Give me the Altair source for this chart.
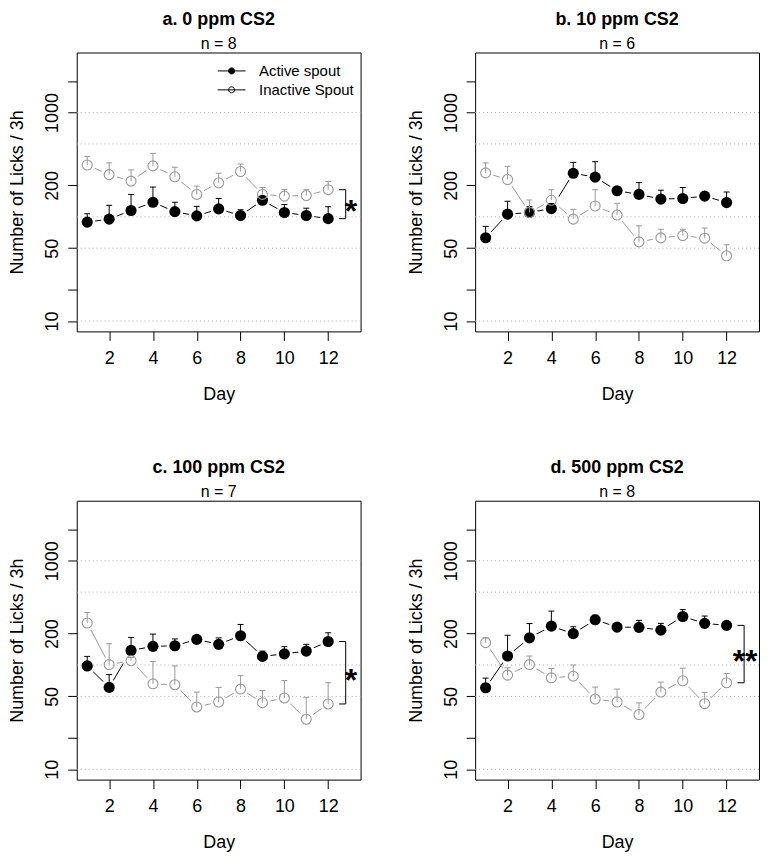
import altair as alt
import pandas as pd
import math

days = list(range(1, 13))
series_names = ["Active spout", "Inactive Spout"]

panel_titles = ["a. 0 ppm CS2", "b. 10 ppm CS2", "c. 100 ppm CS2", "d. 500 ppm CS2"]
panel_n = ["n = 8", "n = 6", "n = 7", "n = 8"]

a_act = [89, 95, 115, 138, 112, 102, 119, 103, 144, 110, 103, 96]
a_act_up = [107, 129, 164, 193, 138, 126, 150, 117, 157, 131, 121, 125]
a_inact = [314, 254, 220, 308, 242, 164, 212, 272, 164, 158, 160, 182]
a_inact_up = [380, 329, 282, 406, 299, 197, 262, 321, 191, 183, 182, 218]

b_act = [63, 106, 110, 120, 262, 240, 178, 164, 148, 150, 158, 137]
b_act_up = [81, 141, 125, 134, 333, 338, 192, 213, 180, 191, 170, 173]
b_inact = [264, 228, 110, 144, 95, 127, 104, 57.5, 62.8, 66, 62.4, 42.3]
b_inact_up = [329, 305, 145, 182, 118, 182, 135, 82, 76, 76, 78, 54]

c_act = [98, 61, 138, 151, 153, 176, 158, 191, 121, 128, 136, 168]
c_act_up = [121, 81, 184, 198, 178, 192, 182, 245, 136, 150, 158, 204]
c_inact = [253, 101, 110, 66, 64.7, 39.6, 44.2, 58.8, 43.5, 48.3, 30.2, 42.3]
c_inact_up = [319, 160, 118, 108, 98, 55, 61, 79, 57, 71, 49, 67.6]

d_act = [60.6, 122, 182, 236, 200, 272, 231, 230, 216, 292, 251, 240]
d_act_up = [74.9, 193, 250, 329, 233, 301, 251, 268, 251, 340, 295, 262]
d_inact = [164, 80, 101, 75.4, 78.2, 47.2, 44.2, 33.5, 55, 70.6, 42.6, 67.6]
d_inact_up = [182, 94, 122, 92.6, 100, 61.5, 58.8, 43.3, 68.6, 93.3, 54.7, 83]

stars = ["*", "", "*", "**"]
star_x = [13.0, 13.0, 13.0, 12.8]

y_tick_values = [10, 20, 50, 200, 1000, 2000]
grid_values = [10, 50, 100, 500, 1000]
x_tick_values = [2, 4, 6, 8, 10, 12]

FONT = "Liberation Sans"
GRAY = "#999999"
LEGEND_PATH = ("M-2.33,0L2.33,0M0.5,0A0.5,0.5,0,1,1,-0.5,0"
               "A0.5,0.5,0,1,1,0.5,0Z")

panels = [
    (a_act, a_act_up, a_inact, a_inact_up),
    (b_act, b_act_up, b_inact, b_inact_up),
    (c_act, c_act_up, c_inact, c_inact_up),
    (d_act, d_act_up, d_inact, d_inact_up),
]

XS = alt.Scale(domain=[0.52, 13.48], nice=False, zero=False)
YS = alt.Scale(type="log", domain=[7.96, 3767], nice=False)

X_AXIS = alt.Axis(values=x_tick_values, title="Day", grid=False, domain=False,
                  tickSize=9, tickColor="black", tickWidth=1,
                  labelFontSize=18, labelFont=FONT, labelColor="black",
                  labelPadding=9, labelBaseline="top",
                  titleFontSize=18, titleFont=FONT, titleFontWeight="normal",
                  titleColor="black", titlePadding=18, format="d",
                  labelFlush=False, labelOverlap=False)
Y_AXIS = alt.Axis(values=y_tick_values, title="Number of Licks / 3h", grid=False,
                  domain=False, tickSize=9, tickColor="black", tickWidth=1,
                  labelExpr="(datum.value == 20 || datum.value == 2000) ? '' : datum.label",
                  labelAngle=-90, labelAlign="center", labelBaseline="alphabetic",
                  labelPadding=10, labelFontSize=18, labelFont=FONT, labelColor="black",
                  titleFontSize=18, titleFont=FONT, titleFontWeight="normal",
                  titleColor="black", titlePadding=17, format="d",
                  labelFlush=False, labelOverlap=False)


def xe(field):
    return alt.X(field, scale=XS, axis=X_AXIS, title="Day")


def ye(field):
    return alt.Y(field, scale=YS, axis=Y_AXIS, title="Number of Licks / 3h")


def make_panel(i):
    act, act_up, ina, ina_up = panels[i]
    rows = []
    for d, v, u in zip(days, act, act_up):
        rows.append({"day": d, "series": series_names[0], "value": v, "upper": u})
    for d, v, u in zip(days, ina, ina_up):
        rows.append({"day": d, "series": series_names[1], "value": v, "upper": u})
    df = pd.DataFrame(rows)
    dfa = df[df.series == series_names[0]]
    dfi = df[df.series == series_names[1]]

    line_a = alt.Chart(dfa).mark_line(strokeWidth=1, color="black").encode(
        x=xe("day:Q"), y=ye("value:Q"))
    line_i = alt.Chart(dfi).mark_line(strokeWidth=1, color=GRAY).encode(
        x=xe("day:Q"), y=ye("value:Q"))
    halo = alt.Chart(df).mark_point(shape="circle", filled=True, color="white",
                                    size=270, opacity=1, strokeWidth=0).encode(
        x=xe("day:Q"), y=ye("value:Q"))
    grid = alt.Chart(pd.DataFrame({"g": grid_values})).mark_rule(
        color="#aaaaaa", strokeDash=[1, 3], strokeWidth=1).encode(y=ye("g:Q"))
    err_a = alt.Chart(dfa).mark_rule(color="black", strokeWidth=1).encode(
        x=xe("day:Q"), y=ye("value:Q"), y2="upper:Q")
    cap_a = alt.Chart(dfa).mark_tick(color="black", orient="horizontal", size=6,
                                     thickness=1, opacity=1).encode(
        x=xe("day:Q"), y=ye("upper:Q"))
    pts_a = alt.Chart(dfa).mark_point(shape="circle", filled=True, color="black",
                                      size=125, opacity=1).encode(x=xe("day:Q"), y=ye("value:Q"))
    pts_i = alt.Chart(dfi).mark_point(shape="circle", filled=False, color=GRAY,
                                      size=100, strokeWidth=1.1, opacity=1).encode(
        x=xe("day:Q"), y=ye("value:Q"))
    err_i = alt.Chart(dfi).mark_rule(color=GRAY, strokeWidth=1).encode(
        x=xe("day:Q"), y=ye("value:Q"), y2="upper:Q")
    cap_i = alt.Chart(dfi).mark_tick(color=GRAY, orient="horizontal", size=6,
                                     thickness=1, opacity=1).encode(
        x=xe("day:Q"), y=ye("upper:Q"))

    layers = [line_a, line_i, halo, grid, err_a, cap_a, pts_a, pts_i, err_i, cap_i]

    if stars[i]:
        lo = min(act[-1], ina[-1])
        hi = max(act[-1], ina[-1])
        mid = math.sqrt(lo * hi)
        bdf = pd.DataFrame({"x0": [12.5, 12.5], "x1": [12.8, 12.8], "y": [lo, hi]})
        vdf = pd.DataFrame({"x": [12.8], "lo": [lo], "hi": [hi]})
        sdf = pd.DataFrame({"x": [star_x[i]], "y": [mid], "t": [stars[i]]})
        hb = alt.Chart(bdf).mark_rule(color="black", strokeWidth=1).encode(
            x=xe("x0:Q"), x2="x1:Q", y=ye("y:Q"))
        vb = alt.Chart(vdf).mark_rule(color="black", strokeWidth=1).encode(
            x=xe("x:Q"), y=ye("lo:Q"), y2="hi:Q")
        st = alt.Chart(sdf).mark_text(font=FONT, fontSize=32, fontWeight="bold",
                                      color="black", baseline="middle", align="center",
                                      dx=1, dy=8).encode(
            x=xe("x:Q"), y=ye("y:Q"), text="t:N")
        layers += [hb, vb, st]

    if i == 0:
        ldf = pd.DataFrame({"entry": series_names, "day": [1, 1], "value": [100, 100]})
        leg = alt.Chart(ldf).mark_point(
            shape=LEGEND_PATH, stroke="black", strokeWidth=1, opacity=0).encode(
            x=xe("day:Q"), y=ye("value:Q"),
            fill=alt.Fill("entry:N",
                          scale=alt.Scale(domain=series_names, range=["black", "transparent"]),
                          legend=alt.Legend(title=None, orient="none", legendX=148, legendY=11,
                                            symbolType=LEGEND_PATH, symbolSize=144,
                                            symbolStrokeColor="black", symbolStrokeWidth=1,
                                            symbolOpacity=1,
                                            labelFont=FONT, labelFontSize=15,
                                            labelColor="black", labelOffset=20,
                                            rowPadding=3, padding=0, labelLimit=300)))
        layers.append(leg)

    return alt.layer(*layers).properties(
        width=285, height=280,
        title=alt.TitleParams(text=panel_titles[i], subtitle=panel_n[i], font=FONT,
                              fontSize=18, fontWeight="bold", color="black",
                              subtitleFont=FONT, subtitleFontSize=16,
                              subtitleFontWeight="normal", subtitleColor="black",
                              subtitlePadding=6, offset=-13, anchor="middle",
                              baseline="alphabetic"))


charts = [make_panel(i) for i in range(4)]
chart = alt.concat(*charts, columns=2, spacing={"row": 170, "column": 115},
                   bounds="flush").properties(
    padding={"left": 0, "top": 0, "right": 0, "bottom": 0}
).configure(background="white",
            view=alt.ViewConfig(stroke="black", strokeWidth=1))

chart.save("out.html", embed_options={"renderer": "svg", "actions": False})
